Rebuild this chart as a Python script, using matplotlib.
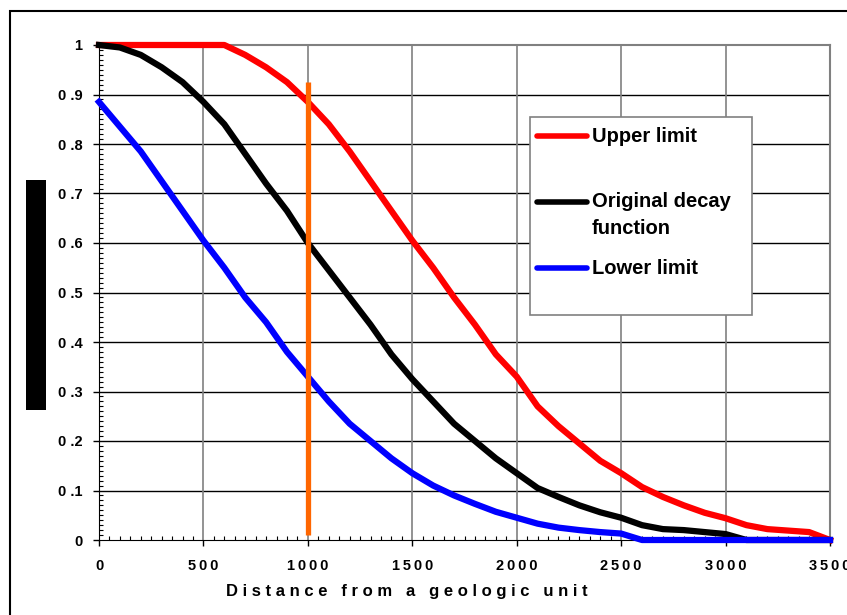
import numpy as np
import matplotlib.pyplot as plt
from matplotlib.patches import Rectangle
from matplotlib.lines import Line2D
from matplotlib.ticker import MultipleLocator

plt.rcParams['font.family'] = ['Liberation Sans', 'DejaVu Sans']
plt.rcParams['font.weight'] = 'bold'
plt.rcParams['axes.labelweight'] = 'bold'

# distance steps (m)
dist = [0, 100, 200, 300, 400, 500, 600, 700, 800, 900, 1000, 1100, 1200,
        1300, 1400, 1500, 1600, 1700, 1800, 1900, 2000, 2100, 2200, 2300,
        2400, 2500, 2600, 2700, 2800, 2900, 3000, 3100, 3200, 3300, 3400, 3500]

upper = [1.0, 1.0, 1.0, 1.0, 1.0, 1.0, 1.0, 0.98, 0.955, 0.925, 0.885, 0.84,
         0.785, 0.725, 0.665, 0.605, 0.55, 0.49, 0.435, 0.375, 0.33, 0.27,
         0.23, 0.195, 0.16, 0.135, 0.107, 0.087, 0.07, 0.055, 0.044, 0.03,
         0.022, 0.019, 0.016, 0.0]

original = [1.0, 0.995, 0.98, 0.955, 0.925, 0.885, 0.84, 0.78, 0.72, 0.665,
            0.60, 0.545, 0.49, 0.435, 0.375, 0.325, 0.28, 0.235, 0.2, 0.165,
            0.135, 0.105, 0.087, 0.07, 0.056, 0.045, 0.03, 0.022, 0.02, 0.016,
            0.012, 0.0, 0.0, 0.0, 0.0, 0.0]

lower = [0.885, 0.835, 0.785, 0.725, 0.665, 0.605, 0.55, 0.49, 0.44, 0.38,
         0.33, 0.28, 0.235, 0.2, 0.165, 0.135, 0.11, 0.09, 0.073, 0.057,
         0.045, 0.033, 0.025, 0.02, 0.016, 0.013, 0.0, 0.0, 0.0, 0.0, 0.0,
         0.0, 0.0, 0.0, 0.0, 0.0]

# vertical marker at the reference distance
mark_x = 1000
mark_y = [0.01, 0.925]

labels = ['Upper limit', 'Original decay\nfunction', 'Lower limit']
colors = ['#FF0000', '#000000', '#0000FF']

ytick_labels = ['0', '0 .1', '0 .2', '0 .3', '0 .4', '0 .5', '0 .6',
                '0 .7', '0 .8', '0 .9', '1']
xtick_labels = ['0', '500', '1000', '1500', '2000', '2500', '3000', '3500']

fig = plt.figure(figsize=(8.47, 6.15), dpi=100)
ax = fig.add_axes([99/847, 1 - 540/615, 731/847, 495/615])

ax.set_xlim(0, 3500)
ax.set_ylim(0, 1)
ax.xaxis.set_minor_locator(MultipleLocator(50))
ax.yaxis.set_minor_locator(MultipleLocator(0.01))
ax.set_yticks(np.arange(0, 1.01, 0.1))
ax.set_yticklabels(ytick_labels)
ax.set_xticks(np.arange(0, 3501, 500))
ax.set_xticklabels(['\u2009'.join(t) for t in xtick_labels])

ax.tick_params(which='major', direction='out', length=4, width=1,
               labelsize=10.5, pad=8)
ax.tick_params(which='minor', direction='in', length=3, width=0.8)
ax.tick_params(axis='x', which='major', pad=10)

# grid: horizontal black, vertical grey
for yv in np.arange(0.1, 0.95, 0.1):
    ax.axhline(yv, color='black', lw=1, zorder=0.5)
for xv in range(500, 3001, 500):
    ax.axvline(xv, color='#808080', lw=1.2, zorder=0.5)

ax.spines['left'].set_color('black')
ax.spines['bottom'].set_color('black')
ax.spines['top'].set_color('#808080')
ax.spines['right'].set_color('#808080')
ax.spines['top'].set_linewidth(1.5)
ax.spines['right'].set_linewidth(1.5)

ax.plot(dist, upper, color=colors[0], lw=4.5, clip_on=False, zorder=3)
ax.plot(dist, original, color=colors[1], lw=4.5, clip_on=False, zorder=3)
ax.plot(dist, lower, color=colors[2], lw=4.5, clip_on=False, zorder=3)
ax.plot([mark_x, mark_x], mark_y, color='#FF6600', lw=3.8,
        solid_capstyle='butt', zorder=4)

xlabel = 'Distance from a geologic unit'
ax.set_xlabel('   '.join(' '.join(w) for w in xlabel.split(' ')),
              fontsize=12, fontweight='bold')
ax.xaxis.set_label_coords((407 - 99)/731, -44/495)

# legend box
lx0, lx1 = 530/847, 752/847
ly0, ly1 = 1 - 315/615, 1 - 117/615
fig.patches.append(Rectangle((lx0, ly0), lx1 - lx0, ly1 - ly0,
                             transform=fig.transFigure, facecolor='white',
                             edgecolor='#808080', lw=1.2, zorder=5))
entry_y = [136, 202, 268]
line_step = 27
for ey, lab, c in zip(entry_y, labels, colors):
    yf = 1 - ey/615
    fig.lines.append(Line2D([537/847, 587/847], [yf, yf], color=c, lw=4,
                            solid_capstyle='round',
                            transform=fig.transFigure, zorder=6))
    for i, part in enumerate(lab.split('\n')):
        fig.text(592/847, 1 - (ey + i * line_step)/615, part, fontsize=14.5,
                 fontweight='bold', va='center', ha='left', zorder=7)

# masked axis title block
fig.patches.append(Rectangle((26/847, 1 - 410/615), 20/847, 230/615,
                             transform=fig.transFigure, facecolor='black',
                             edgecolor='none'))

# outer chart border
fig.patches.append(Rectangle((10/847, -0.1), 1.0, 1 - 11/615 + 0.1,
                             transform=fig.transFigure, fill=False,
                             edgecolor='black', lw=1.5))

fig.savefig('out.png', dpi=100)
